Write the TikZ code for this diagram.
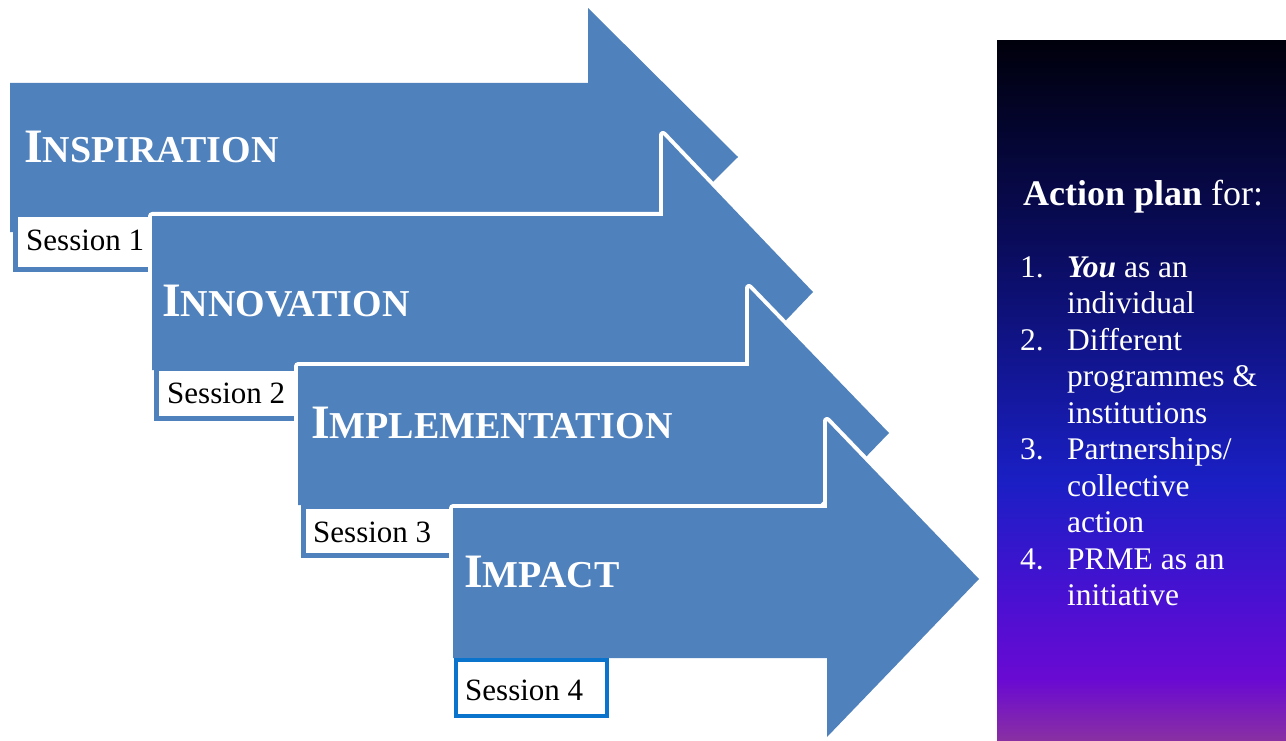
\documentclass[tikz,border=0pt]{standalone}
\usepackage{fontspec}
\setmainfont{Liberation Serif}
\definecolor{arrowblue}{HTML}{4F81BD}
\definecolor{lastblue}{HTML}{0A74CC}
\definecolor{pA}{HTML}{00000C}
\definecolor{pB}{HTML}{0A0C5E}
\definecolor{pC}{HTML}{1A1FC4}
\definecolor{pD}{HTML}{4A10D2}
\definecolor{pE}{HTML}{6A0AD2}
\definecolor{pF}{HTML}{8A30A2}
\newcommand\capsc[2]{{\fontsize{48}{48}\selectfont #1}{\fontsize{38}{38}\selectfont #2}}
% a stage arrow: white halo first, then the blue body on top of it
\newcommand\stagearrow[1]{%
  \draw[white, line width=8pt, line join=round] #1;
  \fill[arrowblue] #1;}
\tikzset{
  sessionbox/.style={fill=white, draw=arrowblue, line width=5pt},
  stagelabel/.style={anchor=base west, inner sep=0pt, text=white, font=\bfseries},
  sessionlabel/.style={anchor=base west, inner sep=0pt, font=\fontsize{31}{36}\selectfont},
  plantext/.style={anchor=base west, inner sep=0pt, text=white, font=\fontsize{31.5}{36.5}\selectfont},
}
\begin{document}
\begin{tikzpicture}[x=1pt,y=-1pt]
\useasboundingbox (0,0) rectangle (1286,741);
\fill[white] (0,0) rectangle (1286,741);

% stage 1
\stagearrow{(10,83) -- (588,83) -- (588,8) -- (738,157) -- (588,306) -- (588,232) -- (10,232) -- cycle}
\node[stagelabel] (t1) at (24,163) {\capsc{I}{NSPIRATION}};
\draw[sessionbox] (15.5,214.5) rectangle (170,269.5);
\node[sessionlabel] (s1) at (26,250) {Session 1};

% stage 2
\stagearrow{(152,216) -- (663,216) -- (663,135) -- (813,292) -- (663,449) -- (663,370) -- (152,370) -- cycle}
\node[stagelabel] (t2) at (162,316) {\capsc{I}{NNOVATION}};
\draw[sessionbox] (156.5,368) rectangle (310,418.5);
\node[sessionlabel] (s2) at (167,403) {Session 2};

% stage 3
\stagearrow{(298,366) -- (749,366) -- (749,288) -- (889,433) -- (749,578) -- (749,505) -- (298,505) -- cycle}
\node[stagelabel] (t3) at (311,438) {\capsc{I}{MPLEMENTATION}};
\draw[sessionbox] (303.5,506) rectangle (470,555.5);
\node[sessionlabel] (s3) at (313,542) {Session 3};

% stage 4
\stagearrow{(453,508) -- (827,508) -- (827,421) -- (979,579) -- (827,737) -- (827,658) -- (453,658) -- cycle}
\node[stagelabel] (t4) at (464,587) {\capsc{I}{MPACT}};
\draw[sessionbox, draw=lastblue, line width=3.5pt] (456,660) rectangle (607,716);
\node[sessionlabel] (s4) at (465,700) {Session 4};

% action plan panel
\shade[top color=pA, bottom color=pB] (997,41) rectangle (1286,250.5);
\shade[top color=pB, bottom color=pC] (997,250) rectangle (1286,480.5);
\shade[top color=pC, bottom color=pD] (997,480) rectangle (1286,600.5);
\shade[top color=pD, bottom color=pE] (997,600) rectangle (1286,680.5);
\shade[top color=pE, bottom color=pF] (997,680) rectangle (1286,741);

\node[anchor=base west, inner sep=0pt, text=white, font=\fontsize{36}{40}\selectfont] (ap) at (1023,205) {\textbf{Action plan} for:};
\node[plantext] (n1) at (1020,277) {1.};
\node[plantext] (i1a) at (1067,277) {\textbf{\textit{You}} as an};
\node[plantext] (i1b) at (1067,313.5) {individual};
\node[plantext] (n2) at (1020,350) {2.};
\node[plantext] (i2a) at (1067,350) {Different};
\node[plantext] (i2b) at (1067,386.5) {programmes \&};
\node[plantext] (i2c) at (1067,423) {institutions};
\node[plantext] (n3) at (1020,459.5) {3.};
\node[plantext] (i3a) at (1067,459.5) {Partnerships/};
\node[plantext] (i3b) at (1067,496) {collective};
\node[plantext] (i3c) at (1067,532.5) {action};
\node[plantext] (n4) at (1020,569) {4.};
\node[plantext] (i4a) at (1067,569) {PRME as an};
\node[plantext] (i4b) at (1067,605.5) {initiative};
\end{tikzpicture}
\end{document}
